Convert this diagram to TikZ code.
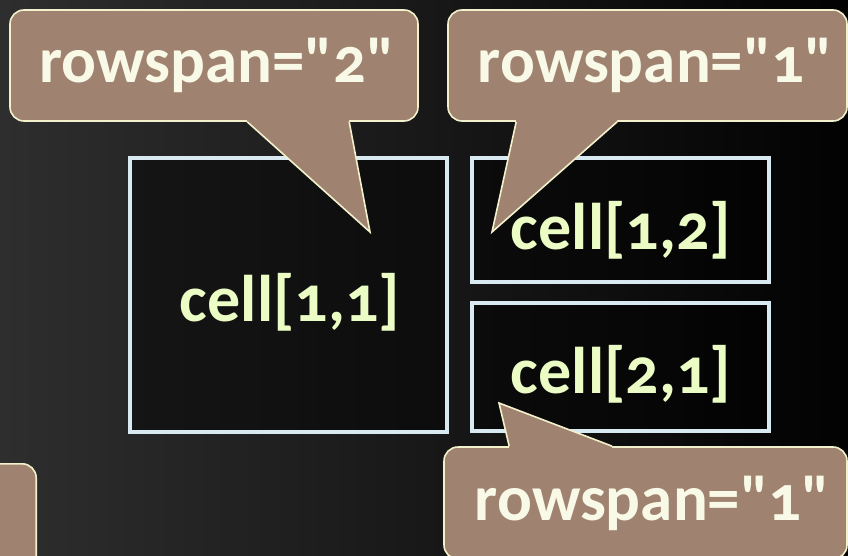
\documentclass[tikz,border=0pt]{standalone}
\usepackage{fontspec}
\setmainfont{Carlito}[Numbers=OldStyle, Ligatures=TeXReset]
\usepackage{xcolor}
\usepackage{tikz}
\usetikzlibrary{positioning,calc}
\definecolor{rsBgL}{HTML}{2E2E2E}
\definecolor{rsBgR}{HTML}{020202}
\definecolor{rsTaupe}{HTML}{9F8370}
\definecolor{rsCream}{HTML}{F2F1CC}
\definecolor{rsIvory}{HTML}{F8F9E6}
\definecolor{rsLime}{HTML}{EBFCC4}
\definecolor{rsLine}{HTML}{D8E9F1}
\tikzset{
  rs-bubble/.style={
    draw=rsCream, line width=1.6pt, rounded corners=14pt,
    fill=rsTaupe, text=rsIvory, inner sep=0pt,
    font=\fontsize{65}{72}\selectfont\bfseries
  },
  rs-cell/.style={
    draw=rsLine, line width=3.4pt, fill=black, fill opacity=.45,
    inner sep=0pt
  },
  rs-text/.style={text=rsLime, font=\fontsize{66}{74}\selectfont\bfseries},
  rs-tip/.style={fill=rsTaupe},
  rs-edge/.style={draw=rsCream, line width=1.6pt, line join=miter}
}

\begin{document}
\begin{tikzpicture}[x=1pt, y=1pt]
\useasboundingbox (0,0) rectangle (848,555);
\clip (0,0) rectangle (848,555);
\shade[left color=rsBgL, right color=rsBgR] (0,0) rectangle (848,555);

% Table cells
\node[rs-cell, minimum width=317pt, minimum height=274pt] (c11) at (288.5,260) {};
\node[rs-cell, minimum width=297pt, minimum height=124pt] (c12) at (620.5,335) {};
\node[rs-cell, minimum width=297pt, minimum height=128pt] (c21) at (620.5,188) {};
\node[rs-text] (t11) at (290,253) {cell[1,1]};
\node[rs-text] (t12) at (621,325) {cell[1,2]};
\node[rs-text] (t21) at (621,181) {cell[2,1]};

% Callouts
\node[rs-bubble, minimum width=408pt, minimum height=111pt] (b1) at (214,489.5) {\kern6pt rowspan="2"};
\node[rs-bubble, minimum width=399pt, minimum height=111pt] (b2) at (647.5,489.5) {\kern16pt rowspan="1"};
\node[rs-bubble, minimum width=403pt, minimum height=112pt] (b3) at (645.5,52) {\kern14pt rowspan="1"};
\node[rs-bubble, minimum width=400pt, minimum height=112pt, anchor=north east] (b4) at (37,92) {};

\coordinate (p1) at (370,323);
\coordinate (p2) at (492,323);
\coordinate (p3) at (499,152);
\path (b1.south west) ++(238,0) coordinate (b1l) ++(102,0) coordinate (b1r);
\path (b2.south west) ++(69,0) coordinate (b2l) ++(101,0) coordinate (b2r);
\path (b3.north west) ++(66,0) coordinate (b3l) ++(103,0) coordinate (b3r);

% Pointers
\fill[rs-tip] (b1l) -- (p1) -- (b1r) -- ++(0,3) -- ($(b1l)+(0,3)$) -- cycle;
\draw[rs-edge] (b1l) -- (p1) -- (b1r);
\fill[rs-tip] (b2l) -- (p2) -- (b2r) -- ++(0,3) -- ($(b2l)+(0,3)$) -- cycle;
\draw[rs-edge] (b2l) -- (p2) -- (b2r);
\fill[rs-tip] (b3l) -- (p3) -- (b3r) -- ++(0,-3) -- ($(b3l)+(0,-3)$) -- cycle;
\draw[rs-edge] (b3l) -- (p3) -- (b3r);
\end{tikzpicture}
\end{document}
